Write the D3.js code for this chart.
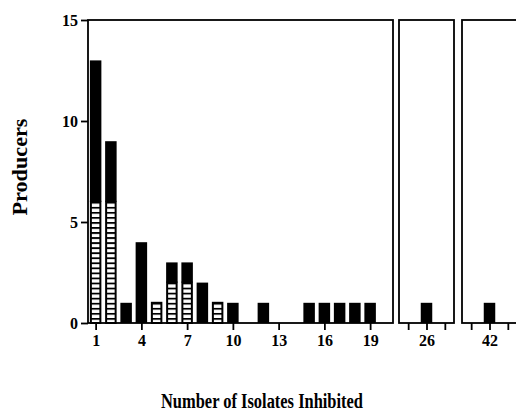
<!DOCTYPE html>
<html lang="en">
<head>
<meta charset="UTF-8" />
<title>Producers by number of isolates inhibited</title>
<script src="https://d3js.org/d3.v7.min.js"></script>
<style>
  body { margin: 0; background: #fff; }
  svg text { font-family: "Liberation Serif", "Times New Roman", serif; font-weight: bold; fill: #000; }
</style>
</head>
<body>
<svg id="chart" width="516" height="412"></svg>
<script>
// data
const isolates = [1, 2, 3, 4, 5, 6, 7, 8, 9, 10, 12, 15, 16, 17, 18, 19, 26, 42];
const hatchedCounts = [6, 6, 0, 0, 1, 2, 2, 0, 1, 0, 0, 0, 0, 0, 0, 0, 0, 0];
const solidCounts = [7, 3, 1, 4, 0, 1, 1, 2, 0, 1, 1, 1, 1, 1, 1, 1, 1, 1];
const yTicks = [0, 5, 10, 15];
const panelDomains = [[0.5, 20.5], [24.5, 27.5], [40.5, 43.5]];
const panelTicks = [[1, 4, 7, 10, 13, 16, 19], [25, 26, 27], [41, 42, 43]];
const panelLabels = [[1, 4, 7, 10, 13, 16, 19], [26], [42]];

const svg = d3.select("#chart");
const plotTop = 20, plotBottom = 323;
const panelRanges = [[88, 393], [399, 454], [462, 517]];
const barW = 11.5;
const lw = 1.8;

const y = d3.scaleLinear().domain([0, 15]).range([plotBottom, plotTop]);
const unit = y(0) - y(1);

// horizontal stripes for the hatched segments
const defs = svg.append("defs");
const pat = defs.append("pattern")
  .attr("id", "stripes")
  .attr("patternUnits", "userSpaceOnUse")
  .attr("width", 10).attr("height", unit / 4)
  .attr("patternTransform", `translate(0,${y(0)})`);
pat.append("rect").attr("width", 10).attr("height", unit / 4).attr("fill", "#fff");
pat.append("rect").attr("width", 10).attr("height", 1.8).attr("fill", "#000");

const data = isolates.map((v, i) => ({ v, h: hatchedCounts[i], s: solidCounts[i] }));

panelDomains.forEach((dom, p) => {
  const x = d3.scaleLinear().domain(dom).range(panelRanges[p]);
  const g = svg.append("g");
  const pd = data.filter(d => d.v > dom[0] && d.v < dom[1]);

  // solid segments
  g.selectAll("rect.solid").data(pd.filter(d => d.s > 0)).join("rect")
    .attr("class", "solid")
    .attr("x", d => x(d.v) - barW / 2)
    .attr("width", barW)
    .attr("y", d => y(d.h + d.s))
    .attr("height", d => y(d.h) - y(d.h + d.s))
    .attr("fill", "#000");

  // hatched segments
  g.selectAll("rect.hatch").data(pd.filter(d => d.h > 0)).join("rect")
    .attr("class", "hatch")
    .attr("x", d => x(d.v) - barW / 2 + 1)
    .attr("width", barW - 2)
    .attr("y", d => y(d.h))
    .attr("height", d => y(0) - y(d.h))
    .attr("fill", "url(#stripes)")
    .attr("stroke", "#000")
    .attr("stroke-width", 2);

  // frame
  g.append("rect")
    .attr("x", x.range()[0]).attr("y", plotTop)
    .attr("width", x.range()[1] - x.range()[0])
    .attr("height", plotBottom - plotTop)
    .attr("fill", "none").attr("stroke", "#000").attr("stroke-width", lw);

  const ax = g.append("g")
    .attr("transform", `translate(0,${plotBottom})`)
    .call(d3.axisBottom(x).tickValues(panelTicks[p]).tickSize(7).tickPadding(5)
      .tickFormat(d => panelLabels[p].includes(d) ? d : ""));
  ax.select(".domain").remove();
  ax.selectAll("line").attr("stroke-width", lw);
  ax.selectAll("text").attr("font-size", 16).attr("font-family", null).attr("dy", "0.7em");
});

// y axis
const yax = svg.append("g")
  .attr("transform", `translate(${panelRanges[0][0]},0)`)
  .call(d3.axisLeft(y).tickValues(yTicks).tickSize(7).tickPadding(3));
yax.select(".domain").remove();
yax.selectAll("line").attr("stroke-width", lw);
yax.selectAll("text").attr("font-size", 16).attr("font-family", null);

// axis titles
svg.append("text")
  .attr("transform", `translate(27,167) rotate(-90)`)
  .attr("text-anchor", "middle")
  .attr("font-size", 20)
  .attr("textLength", 97)
  .attr("lengthAdjust", "spacingAndGlyphs")
  .text("Producers");

svg.append("text")
  .attr("x", 262).attr("y", 408)
  .attr("text-anchor", "middle")
  .attr("font-size", 20)
  .attr("textLength", 202)
  .attr("lengthAdjust", "spacingAndGlyphs")
  .text("Number of Isolates Inhibited");
</script>
</body>
</html>
